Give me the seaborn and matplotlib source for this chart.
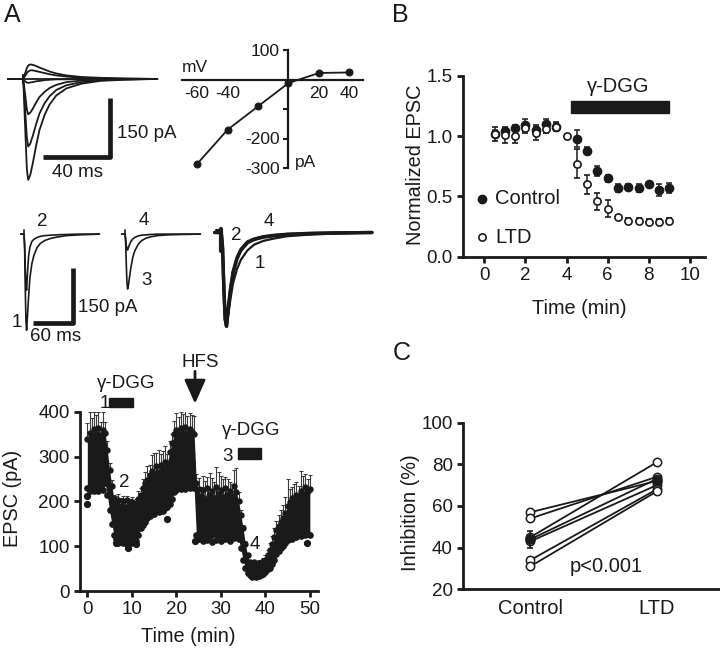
import numpy as np
import pandas as pd
import matplotlib
matplotlib.use("Agg")
import matplotlib.pyplot as plt
from matplotlib.patches import Rectangle
import seaborn as sns

sns.set_style("ticks")
plt.rcParams['font.family'] = ['Liberation Sans', 'DejaVu Sans']
plt.rcParams['axes.unicode_minus'] = False

INK = '#1a1a1a'
FS_TICK = 13.5
FS_LAB = 14.3

# ---------------- data: A, I-V traces (ms, pA) ----------------
iv_trace_ms = [-10, 0, 0.5, 1.5, 2.5, 3.3, 4.5, 6, 8, 10, 13, 16, 20, 26, 35, 46, 60, 80]
trace_m60 = [0, 0, -15, -125, -230, -257, -245, -215, -170, -130, -92, -65, -42, -24, -12, -5, -2, 0]
trace_m40 = [0, 0, -10, -80, -150, -172, -165, -145, -115, -88, -62, -44, -28, -16, -8, -3, -1, 0]
trace_m20 = [0, 0, -5, -40, -78, -90, -86, -76, -60, -46, -33, -23, -15, -8, -4, -2, -1, 0]
trace_0 = [0, 0, -2, -6, -9, -10, -9, -8, -6, -5, -3, -2, -1, -1, 0, 0, 0, 0]
trace_p20 = [0, 0, 2, 8, 15, 19, 22, 22, 20, 18, 15, 12, 9, 6, 3, 2, 1, 0]
trace_p40 = [0, 0, 4, 15, 28, 34, 37, 36, 33, 29, 24, 19, 14, 9, 5, 3, 1, 0]

# I-V relation
iv_mv = [-60, -40, -20, 0, 20, 40]
iv_pa = [-286, -170, -91, -12, 22, 24]

# ---------------- data: A, example traces 1-4 ----------------
ex_ms = [-5, 0, 1, 2, 3, 4, 5.5, 7, 9, 12, 15, 20, 25, 32, 40, 50, 65, 85, 115]
ex1 = [0, 0, -40, -150, -235, -259, -215, -170, -118, -80, -58, -36, -25, -17, -12, -8, -4, -2, 0]
ex2 = [0, 0, -25, -95, -140, -151, -100, -60, -35, -20, -14, -9, -6, -4, -3, -2, -1, 0, 0]
ex3 = [0, 0, -20, -80, -130, -148, -135, -115, -90, -62, -45, -28, -18, -11, -7, -4, -2, -1, 0]
ex4 = [0, 0, -10, -30, -40, -43, -35, -28, -20, -13, -9, -5, -3, -2, -1, 0, 0, 0, 0]
# scaled to peak
norm1 = [0, 0, -0.15, -0.55, -0.9, -1.0, -0.86, -0.71, -0.54, -0.39, -0.29, -0.19, -0.13, -0.09, -0.065, -0.04, -0.025, -0.012, 0]
norm2 = [0, 0, -0.15, -0.6, -0.92, -1.0, -0.8, -0.62, -0.43, -0.28, -0.19, -0.11, -0.075, -0.05, -0.035, -0.02, -0.012, -0.005, 0]
norm4 = [0, 0, -0.18, -0.62, -0.93, -1.0, -0.78, -0.6, -0.42, -0.27, -0.18, -0.1, -0.07, -0.045, -0.03, -0.02, -0.01, -0.005, 0]

# ---------------- data: A, time course (every 0.5 min) ----------------
tc_min = np.arange(0, 50.5, 0.5)
tc_hi = [340, 352, 345, 362, 350, 364, 348, 360, 352, 315,
         270, 235, 205, 196, 204, 190, 200, 188, 202, 192,
         198, 186, 195, 205, 215, 230, 240, 248, 258, 268,
         262, 278, 266, 280, 272, 288, 285, 310, 330, 350,
         360, 348, 364, 352, 366, 350, 362, 354, 350, 240,
         228, 212, 226, 206, 230, 214, 222, 208, 232, 216,
         226, 210, 230, 214, 224, 209, 234, 220, 200, 170,
         140, 105, 80, 65, 60, 64, 58, 63, 60, 66,
         70, 80, 92, 105, 120, 135, 145, 155, 162, 175,
         190, 198, 208, 204, 214, 210, 222, 216, 232, 224,
         228]
tc_lo = [230, 222, 232, 224, 230, 222, 232, 226, 240, 215,
         180, 150, 125, 115, 108, 114, 106, 112, 104, 114,
         108, 116, 112, 125, 140, 148, 155, 162, 168, 176,
         172, 180, 176, 184, 178, 186, 188, 195, 205, 220,
         226, 234, 228, 236, 228, 234, 230, 238, 230, 125,
         116, 124, 112, 126, 114, 122, 110, 128, 114, 124,
         112, 126, 116, 122, 112, 128, 118, 126, 115, 95,
         70, 52, 40, 35, 32, 35, 31, 34, 36, 38,
         42, 48, 52, 60, 70, 82, 90, 95, 100, 108,
         114, 120, 116, 124, 120, 128, 122, 130, 124, 128,
         126]
tc_err = [35, 48, 40, 38, 42, 35, 30, 40, 25, 20,
          15, 12, 10, 15, 12, 18, 12, 15, 10, 14,
          12, 15, 10, 18, 15, 20, 25, 30, 22, 35,
          45, 30, 48, 25, 40, 35, 20, 25, 20, 30,
          38, 40, 35, 42, 38, 40, 35, 38, 40, 20,
          25, 20, 30, 40, 25, 50, 30, 35, 45, 50,
          30, 40, 25, 35, 20, 30, 35, 55, 20, 10,
          8, 6, 5, 5, 6, 5, 5, 6, 5, 8,
          10, 12, 15, 18, 20, 22, 25, 25, 30, 35,
          60, 30, 25, 35, 30, 25, 45, 40, 30, 25,
          30]
out_min = [0, 0, 6.4, 9.2, 11.0, 17.8, 24.3, 49.3]
out_pa = [212, 194, 108, 97, 104, 160, 112, 108]
dgg1_min = (4.9, 10.3)
dgg2_min = (33.9, 39.0)
hfs_min = 24.2

# ---------------- data: B ----------------
b_min = [0.5, 1, 1.5, 2, 2.5, 3, 3.5, 4.5, 5, 5.5, 6, 6.5, 7, 7.5, 8, 8.5, 9]
b_ctrl = [1.02, 1.04, 1.07, 1.09, 1.05, 1.10, 1.08, 0.98, 0.88, 0.71, 0.65, 0.57, 0.58, 0.57, 0.60, 0.55, 0.57]
b_ctrl_err = [0.03, 0.03, 0.02, 0.05, 0.03, 0.04, 0.04, 0.07, 0.03, 0.04, 0.03, 0.03, 0.02, 0.03, 0.02, 0.05, 0.04]
b_ltd_min = [0.5, 1, 1.5, 2, 2.5, 3, 3.5, 4, 4.5, 5, 5.5, 6, 6.5, 7, 7.5, 8, 8.5, 9]
b_ltd = [1.02, 1.01, 1.00, 1.07, 1.03, 1.06, 1.08, 1.00, 0.77, 0.60, 0.46, 0.40, 0.33, 0.30, 0.30, 0.29, 0.29, 0.30]
b_ltd_err = [0.06, 0.07, 0.06, 0.04, 0.06, 0.03, 0.03, 0.02, 0.12, 0.08, 0.07, 0.07, 0.02, 0.02, 0.02, 0.02, 0.02, 0.02]
b_dgg_min = (4.2, 9.0)

# ---------------- data: C ----------------
c_groups = ['Control', 'LTD']
c_control = [57, 54, 45, 44, 43, 34, 31]
c_ltd = [72, 74, 81, 73, 70, 68, 67]
c_mean = [44, 72]
c_sem = [4, 2]

W, H = 720, 649
fig = plt.figure(figsize=(7.2, 6.49), dpi=100)


def box(l, t, r, b):
    return fig.add_axes([l / W, 1 - b / H, (r - l) / W, (b - t) / H])


def ftext(x, y, s, **kw):
    kw.setdefault('fontsize', FS_LAB)
    kw.setdefault('color', INK)
    kw.setdefault('ha', 'center')
    kw.setdefault('va', 'center')
    fig.text(x / W, 1 - y / H, s, **kw)


def style_axes(ax):
    sns.despine(ax=ax)
    for s in ['left', 'bottom']:
        ax.spines[s].set_linewidth(2.0)
        ax.spines[s].set_color(INK)
    ax.tick_params(direction='out', length=4.5, width=2.0, colors=INK,
                   labelsize=FS_TICK, pad=3)


# ================= A: I-V traces =================
ax = box(7, 55, 160, 185)
for tr in [trace_m60, trace_m40, trace_m20, trace_0, trace_p20, trace_p40]:
    ax.plot(iv_trace_ms, tr, color=INK, lw=1.3, solid_joinstyle='round')
ax.plot([-12, 80], [0, 0], color=INK, lw=1.3)
ax.plot([0, 0], [-10, 10], color=INK, lw=1.5)
ax.plot([11.9, 51.9, 51.9], [-198, -198, -48], color=INK, lw=3.4, solid_capstyle='butt')
ax.text(56, -140, '150 pA', fontsize=FS_TICK, color=INK, ha='left', va='center')
ax.text(32.3, -239, '40 ms', fontsize=FS_TICK, color=INK, ha='center', va='center')
ax.set_xlim(-9.3, 81.6)
ax.set_ylim(-270, 61)
ax.axis('off')

# ================= A: I-V plot =================
ax = box(182, 50, 363, 168)
sns.lineplot(x=iv_mv, y=iv_pa, ax=ax, color=INK, lw=1.3, marker='o', ms=5,
             mec=INK, mfc=INK)
ax.spines['left'].set_position(('data', 0))
ax.spines['bottom'].set_position(('data', 0))
ax.spines['top'].set_visible(False)
ax.spines['right'].set_visible(False)
for s in ['left', 'bottom']:
    ax.spines[s].set_linewidth(1.6)
    ax.spines[s].set_color(INK)
ax.set_xlim(-70, 49)
ax.set_ylim(-300, 100)
ax.set_xticks([-60, -40, 20, 40])
ax.set_xticklabels(['-60', '-40', '20', '40'])
ax.set_yticks([100, -100, -200, -300])
ax.set_yticklabels(['100', '', '-200', '-300'])
ax.tick_params(axis='x', length=0, pad=5, labelsize=12.5, colors=INK)
ax.tick_params(axis='y', direction='out', length=3.5, width=1.5, pad=3,
               labelsize=12.5, colors=INK)
ax.text(-61.5, 40, 'mV', fontsize=12.5, color=INK, ha='center', va='center')
ax.text(4.3, -283, 'pA', fontsize=12.5, color=INK, ha='left', va='center')
ax.set_xlabel('')
ax.set_ylabel('')

# ================= A: example traces =================
ax = box(15, 210, 105, 345)
ax.plot(ex_ms, ex1, color=INK, lw=1.2)
ax.plot(ex_ms, ex2, color=INK, lw=1.2)
ax.plot([0, 0], [0, 10], color=INK, lw=1.2)
ax.plot([14.2, 74.2, 74.2], [-241, -241, -91], color=INK, lw=3.4, solid_capstyle='butt')
ax.text(82.3, -198, '150 pA', fontsize=FS_TICK, color=INK, ha='left', va='center')
ax.text(48.8, -277, '60 ms', fontsize=FS_TICK, color=INK, ha='center', va='center')
ax.text(-11, -239, '1', fontsize=FS_TICK, color=INK, ha='center', va='center')
ax.text(28.5, 33, '2', fontsize=FS_TICK, color=INK, ha='center', va='center')
ax.set_xlim(-13.7, 123.5)
ax.set_ylim(-299, 65)
ax.axis('off')

ax = box(115, 210, 205, 345)
ax.plot(ex_ms, ex3, color=INK, lw=1.2)
ax.plot(ex_ms, ex4, color=INK, lw=1.2)
ax.plot([0, 0], [0, 10], color=INK, lw=1.2)
ax.text(28, 36, '4', fontsize=FS_TICK, color=INK, ha='center', va='center')
ax.text(33, -126, '3', fontsize=FS_TICK, color=INK, ha='center', va='center')
ax.set_xlim(-15.2, 122)
ax.set_ylim(-299, 65)
ax.axis('off')

ax = box(210, 210, 375, 345)
ax.plot(ex_ms, norm2, color=INK, lw=2.4)
ax.plot(ex_ms, norm4, color=INK, lw=2.4)
ax.plot(ex_ms, norm1, color=INK, lw=1.6)
ax.plot([-0.5, -0.5], [0.04, -0.2], color=INK, lw=3)
ax.plot([-4, -0.5], [0.03, 0.03], color=INK, lw=1.5)
ax.text(11.2, -0.035, '2', fontsize=FS_TICK, color=INK, ha='center', va='center')
ax.text(35.9, 0.12, '4', fontsize=FS_TICK, color=INK, ha='center', va='center')
ax.text(29.5, -0.33, '1', fontsize=FS_TICK, color=INK, ha='center', va='center')
ax.set_xlim(-8.6, 117.3)
ax.set_ylim(-1.2, 0.24)
ax.axis('off')

# ================= A: time course =================
ax = box(80, 411.7, 318.3, 591)
ax.errorbar(tc_min, tc_hi, yerr=[np.zeros(len(tc_err)), tc_err], fmt='none',
            ecolor='#3c3c3c', elinewidth=0.8, capsize=1.6, capthick=0.8, zorder=1)
ax.fill_between(tc_min, tc_lo, tc_hi, color=INK, lw=0, zorder=2)
ax.plot(tc_min, tc_hi, 'o', color=INK, ms=3.6, zorder=3)
ax.plot(tc_min, tc_lo, 'o', color=INK, ms=3.8, zorder=3)
ax.plot(out_min, out_pa, 'o', color=INK, ms=4.2, zorder=3)
ax.add_patch(Rectangle((dgg1_min[0], 411), dgg1_min[1] - dgg1_min[0], 20,
                       color=INK, clip_on=False))
ax.add_patch(Rectangle((dgg2_min[0], 294), dgg2_min[1] - dgg2_min[0], 24,
                       color=INK, clip_on=False))
ax.text(8.7, 462, 'γ-DGG', fontsize=FS_TICK, color=INK, ha='center', va='center')
ax.text(36.9, 358, 'γ-DGG', fontsize=FS_TICK, color=INK, ha='center', va='center')
ax.text(4.0, 418, '1', fontsize=FS_TICK, color=INK, ha='center', va='center')
ax.text(8.2, 241, '2', fontsize=FS_TICK, color=INK, ha='center', va='center')
ax.text(31.5, 299, '3', fontsize=FS_TICK, color=INK, ha='center', va='center')
ax.text(37.6, 103, '4', fontsize=FS_TICK, color=INK, ha='center', va='center')
ax.text(25.3, 509, 'HFS', fontsize=FS_TICK, color=INK, ha='center', va='center')
ax.annotate('', xy=(hfs_min, 418), xytext=(hfs_min, 490), annotation_clip=False,
            arrowprops=dict(arrowstyle='-|>,head_width=0.65,head_length=1.45',
                            lw=2.0, color=INK, shrinkA=0, shrinkB=0))
ax.set_xlim(-1.64, 51.9)
ax.set_ylim(0, 400)
ax.set_xticks([0, 10, 20, 30, 40, 50])
ax.set_yticks([0, 100, 200, 300, 400])
style_axes(ax)

# ================= B =================
ax = box(462.7, 76, 705, 256.7)
ax.errorbar(b_min, b_ctrl, yerr=b_ctrl_err, fmt='o', color=INK,
            ms=6, mfc=INK, mec=INK, elinewidth=1.1, capsize=2, capthick=1.1, zorder=3)
ax.errorbar(b_ltd_min, b_ltd, yerr=b_ltd_err, fmt='o', color=INK, ms=5.2,
            mfc='white', mec=INK, mew=1.2, elinewidth=1.1, capsize=2, capthick=1.1, zorder=4)
ax.add_patch(Rectangle((b_dgg_min[0], 1.19), b_dgg_min[1] - b_dgg_min[0], 0.10,
                       color=INK, clip_on=False))
ax.text(6.5, 1.41, 'γ-DGG', fontsize=14.5, color=INK, ha='center', va='center')
ax.plot([-0.13], [0.479], 'o', color=INK, ms=6)
ax.plot([-0.13], [0.161], 'o', mfc='white', mec=INK, mew=1.2, ms=5.2)
ax.text(0.52, 0.479, 'Control', fontsize=14.5, color=INK, ha='left', va='center')
ax.text(0.52, 0.161, 'LTD', fontsize=14.5, color=INK, ha='left', va='center')
ax.set_xlim(-1.05, 10.73)
ax.set_ylim(0, 1.5)
ax.set_xticks([0, 2, 4, 6, 8, 10])
ax.set_yticks([0, 0.5, 1.0, 1.5])
ax.set_yticklabels(['0.0', '0.5', '1.0', '1.5'])
style_axes(ax)

# ================= C =================
ax = box(463.3, 422.7, 720, 589.3)
pairs = pd.DataFrame({
    'cell': list(range(len(c_control))) * 2,
    'pos': [0] * len(c_control) + [1] * len(c_ltd),
    'val': c_control + c_ltd,
})
sns.lineplot(data=pairs, x='pos', y='val', units='cell', estimator=None, ax=ax,
             color=INK, lw=1.3, marker='o', ms=6, mfc='white', mec=INK, mew=1.1)
ax.errorbar([0, 1], c_mean, yerr=c_sem, fmt='o', color=INK, ms=6.5,
            elinewidth=1.2, capsize=2.5, capthick=1.2, zorder=5)
ax.text(0.6, 30.8, 'p<0.001', fontsize=14.5, color=INK, ha='center', va='center')
ax.set_xlim(-0.53, 1.5)
ax.set_ylim(20, 100)
ax.set_xticks([0, 1])
ax.set_xticklabels(c_groups)
ax.set_yticks([20, 40, 60, 80, 100])
ax.set_xlabel('')
ax.set_ylabel('')
style_axes(ax)
ax.tick_params(axis='x', length=0, pad=7, labelsize=14.5)

# ================= labels =================
ftext(12, 15, 'A', fontsize=18)
ftext(400, 15, 'B', fontsize=18)
ftext(402, 353, 'C', fontsize=18)
ftext(12.5, 498, 'EPSC (pA)', rotation=90)
ftext(188, 637, 'Time (min)')
ftext(416, 165, 'Normalized EPSC', rotation=90)
ftext(579, 309, 'Time (min)')
ftext(410, 513, 'Inhibition (%)', rotation=90)

fig.savefig('out.png', dpi=100)
